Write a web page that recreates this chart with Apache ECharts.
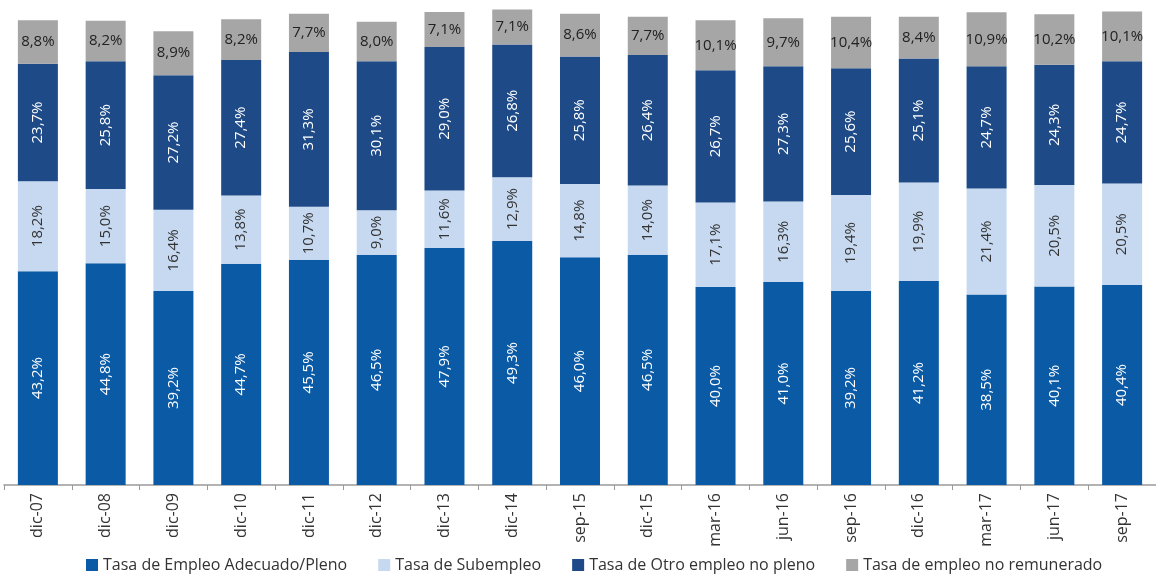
<!DOCTYPE html>
<html><head><meta charset="utf-8">
<script src="https://cdn.jsdelivr.net/npm/echarts@6/dist/echarts.min.js"></script>
<style>html,body{margin:0;padding:0;background:#fff}#c{width:1156px;height:575px}</style>
</head><body><div id="c"></div>
<script>
const categories = ["dic-07","dic-08","dic-09","dic-10","dic-11","dic-12","dic-13","dic-14","sep-15","dic-15","mar-16","jun-16","sep-16","dic-16","mar-17","jun-17","sep-17"];
const adecuado = [43.2,44.8,39.2,44.7,45.5,46.5,47.9,49.3,46.0,46.5,40.0,41.0,39.2,41.2,38.5,40.1,40.4];
const subempleo = [18.2,15.0,16.4,13.8,10.7,9.0,11.6,12.9,14.8,14.0,17.1,16.3,19.4,19.9,21.4,20.5,20.5];
const otro = [23.7,25.8,27.2,27.4,31.3,30.1,29.0,26.8,25.8,26.4,26.7,27.3,25.6,25.1,24.7,24.3,24.7];
const noRemunerado = [8.8,8.2,8.9,8.2,7.7,8.0,7.1,7.1,8.6,7.7,10.1,9.7,10.4,8.4,10.9,10.2,10.1];
const seriesNames = ["Tasa de Empleo Adecuado/Pleno","Tasa de Subempleo","Tasa de Otro empleo no pleno","Tasa de empleo no remunerado"];

const fmt = p => p.value.toFixed(1).replace('.', ',') + '%';
const FONT = '"Open Sans", "Noto Sans", sans-serif';
function mk(name, data, color, labelColor, rotate) {
  return {
    name, type: 'bar', stack: 't', data, barWidth: 40,
    itemStyle: { color },
    label: { show: true, position: 'inside', rotate: rotate, formatter: fmt,
      color: labelColor, fontSize: 15, fontFamily: FONT },
    emphasis: { disabled: true }
  };
}
const chart = echarts.init(document.getElementById('c'), null, { renderer: 'canvas' });
chart.setOption({
  animation: false,
  textStyle: { fontFamily: FONT },
  grid: { left: 4, right: -14, top: 0, bottom: 90, containLabel: false },
  xAxis: {
    type: 'category', data: categories,
    axisLine: { lineStyle: { color: '#9a9a9a', width: 1.5 } },
    axisTick: { show: true, length: 5, lineStyle: { color: '#9a9a9a' } },
    axisLabel: { rotate: 90, color: '#333', fontSize: 16, fontFamily: FONT, margin: 8 }
  },
  yAxis: { type: 'value', min: 0, max: 98, show: false, splitLine: { show: false } },
  legend: {
    top: 557, left: 86, padding: 0, itemWidth: 12, itemHeight: 12, itemGap: 31,
    icon: 'rect', textStyle: { color: '#333', fontSize: 16, fontFamily: FONT },
    data: seriesNames
  },
  series: [
    mk(seriesNames[0], adecuado, '#0a5aa6', '#fff', 90),
    mk(seriesNames[1], subempleo, '#c6d9f0', '#333', 90),
    mk(seriesNames[2], otro, '#1e4b88', '#fff', 90),
    mk(seriesNames[3], noRemunerado, '#a6a6a6', '#222', 0)
  ]
});
</script></body></html>
